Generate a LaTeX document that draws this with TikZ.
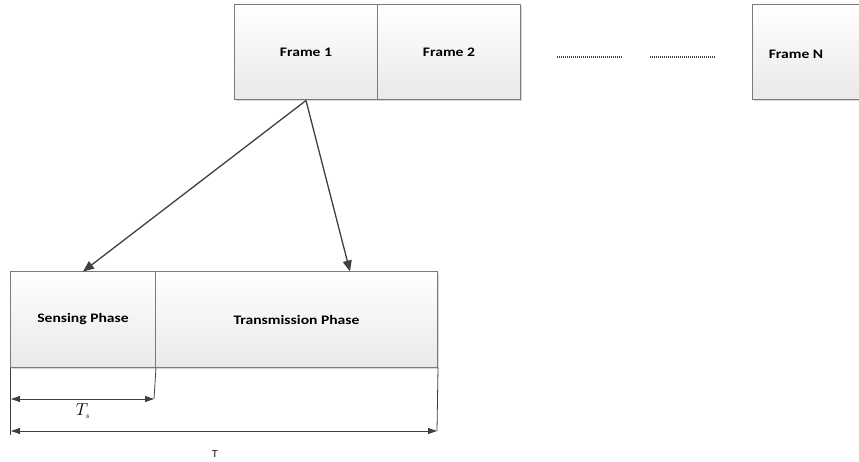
\documentclass[tikz,border=0pt]{standalone}
\usepackage{fontspec}
\setmainfont{Liberation Serif}
\newfontfamily\calibri[FakeStretch=1.2]{Carlito}
\newfontfamily\arialfont{Liberation Sans}
\usetikzlibrary{arrows.meta,shadows}
\definecolor{boxline}{HTML}{7A7A7A}
\definecolor{arrowgray}{HTML}{404040}
\definecolor{boxfill}{HTML}{E9E9E9}
\begin{document}
\begin{tikzpicture}[x=1pt, y=-1pt,
    frame/.style={rectangle, draw=boxline, line width=1pt, top color=white, bottom color=boxfill,
        minimum width=143pt, minimum height=95pt, inner sep=0pt, anchor=west,
        drop shadow={shadow xshift=1.5pt, shadow yshift=-1.5pt, fill=gray!60, opacity=0.5},
        font=\calibri\bfseries\fontsize{13}{15}\selectfont},
    phase/.style={frame},
    lbl/.style={font=\calibri\bfseries\fontsize{13}{15}\selectfont, inner sep=0pt},
    arrow/.style={draw=arrowgray, line width=1.3pt, -{Triangle[length=11pt, width=9pt]}},
    dimline/.style={draw=arrowgray, line width=0.8pt},
    dimarrow/.style={dimline, {Triangle[length=9pt, width=6pt]}-{Triangle[length=9pt, width=6pt]}},
    dots/.style={draw=arrowgray, line width=1.1pt, dash pattern=on 1pt off 1pt}
]
    \useasboundingbox (0,0) rectangle (859,462);

    % Frames
    \node[frame] (frame1) at (234,52.5) {Frame 1};
    \node[frame] (frame2) at (377,52.5) {Frame 2};
    \node[frame] (frameN) at (752,52.5) {};
    \node[lbl] (frameNtxt) at (796,54) {Frame N};

    % Dots between frames
    \coordinate (dotsA1) at (557,57);
    \coordinate (dotsA2) at (623,57);
    \coordinate (dotsB1) at (650,57);
    \coordinate (dotsB2) at (715,57);
    \draw[dots] (dotsA1) -- (dotsA2);
    \draw[dots] (dotsB1) -- (dotsB2);

    % Phases of one frame
    \node[phase, minimum width=145pt] (sensing) at (10,319.5) {Sensing Phase};
    \node[phase, minimum width=282pt] (trans) at (155,319.5) {Transmission Phase};

    % Arrows
    \draw[arrow] (frame1.south) -- (sensing.north);
    \draw[arrow] (frame1.south) -- ([xshift=53.5pt]trans.north);

    % Durations
    \coordinate (tsL) at (11,399);
    \coordinate (tsR) at (154,399);
    \coordinate (tL) at (11,431);
    \coordinate (tR) at (437,431);
    \draw[dimline] (sensing.south west) -- ([yshift=-67pt]sensing.south west);
    \draw[dimline] (sensing.south east) -- (tsR);
    \draw[dimline] (trans.south east) -- (tR);
    \draw[dimarrow] (tsL) -- (tsR);
    \draw[dimarrow] (tL) -- (tR);
    \node[font=\fontsize{17}{19}\selectfont, inner sep=0pt] (tslabel) at (83,411) {$T_{\scriptscriptstyle s}$};
    \node[font=\arialfont\fontsize{10}{12}\selectfont, inner sep=0pt] (tlabel) at (215,454) {T};
\end{tikzpicture}
\end{document}
